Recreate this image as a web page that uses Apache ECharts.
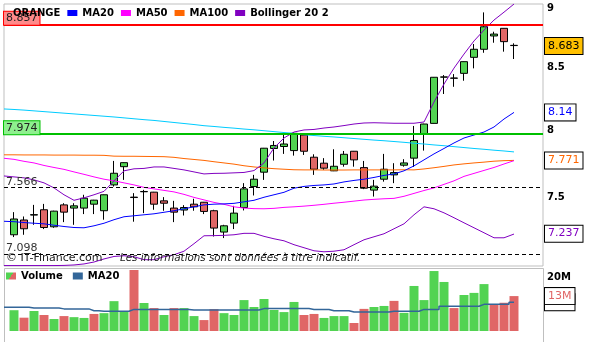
<!DOCTYPE html>
<html>
<head>
<meta charset="utf-8">
<script src="https://cdn.jsdelivr.net/npm/echarts@6.0.0/dist/echarts.min.js"></script>
<style>
html,body{margin:0;padding:0;background:#ffffff;}
#chart{width:592px;height:342px;}
</style>
</head>
<body>
<div id="chart"></div>
<script>
// ---------- DATA ----------
const opens  = [7.232,7.336,7.371,7.409,7.288,7.444,7.421,7.421,7.449,7.402,7.589,7.724,7.500,7.539,7.536,7.473,7.421,7.407,7.449,7.463,7.402,7.251,7.314,7.425,7.577,7.683,7.861,7.876,7.845,7.964,7.795,7.750,7.693,7.742,7.840,7.717,7.551,7.631,7.663,7.735,7.788,7.968,8.054,8.422,8.415,8.453,8.585,8.652,8.764,8.829,8.685];
const closes = [7.343,7.274,7.374,7.283,7.399,7.392,7.437,7.492,7.478,7.517,7.675,7.754,7.497,7.541,7.449,7.456,7.392,7.425,7.430,7.397,7.279,7.295,7.385,7.560,7.631,7.863,7.884,7.895,7.977,7.840,7.705,7.713,7.727,7.817,7.775,7.565,7.580,7.705,7.680,7.752,7.922,8.049,8.421,8.424,8.413,8.549,8.652,8.842,8.780,8.716,8.683];
const lows   = [7.216,7.232,7.302,7.272,7.281,7.321,7.302,7.378,7.378,7.338,7.577,7.626,7.324,7.385,7.409,7.402,7.321,7.368,7.402,7.378,7.220,7.209,7.272,7.404,7.512,7.626,7.770,7.820,7.807,7.812,7.663,7.700,7.691,7.724,7.724,7.558,7.504,7.613,7.602,7.724,7.722,7.845,8.052,8.286,8.344,8.393,8.494,8.623,8.707,8.632,8.571];
const highs  = [7.392,7.361,7.444,7.451,7.402,7.456,7.456,7.517,7.480,7.519,7.767,7.756,7.529,7.553,7.538,7.500,7.473,7.442,7.488,7.465,7.409,7.302,7.437,7.602,7.663,7.865,7.918,7.984,7.985,7.966,7.817,7.788,7.855,7.842,7.842,7.767,7.626,7.820,7.750,7.780,8.034,8.051,8.423,8.439,8.447,8.551,8.696,8.966,8.800,8.831,8.702];
// volume, in millions
const volumes = [7.8,5.0,7.5,6.0,4.5,5.6,5.2,4.9,6.4,6.7,11.2,7.5,22.9,10.5,8.6,6.0,8.6,8.6,5.6,4.1,8.2,6.7,6.0,11.6,9.0,12.0,7.9,7.1,10.9,6.0,6.4,4.9,5.6,5.6,3.0,8.3,9.0,9.4,11.3,6.8,16.9,11.6,22.5,18.4,8.6,13.5,14.3,17.6,9.8,10.6,13.1];
// indicator lines: first value is the day before the first candle (left edge of the panel)
const ma20    = [7.327,7.324,7.318,7.313,7.309,7.299,7.290,7.283,7.281,7.295,7.313,7.338,7.359,7.366,7.373,7.380,7.391,7.402,7.416,7.430,7.444,7.449,7.451,7.455,7.466,7.477,7.499,7.517,7.535,7.565,7.578,7.585,7.589,7.596,7.611,7.622,7.631,7.644,7.659,7.670,7.693,7.730,7.775,7.820,7.861,7.903,7.941,7.964,7.987,8.026,8.088,8.140];
const ma50    = [7.787,7.779,7.764,7.752,7.733,7.718,7.704,7.685,7.667,7.648,7.631,7.619,7.604,7.589,7.571,7.560,7.549,7.538,7.520,7.498,7.480,7.462,7.448,7.430,7.421,7.417,7.416,7.419,7.426,7.430,7.435,7.441,7.448,7.456,7.463,7.471,7.479,7.484,7.488,7.491,7.506,7.527,7.548,7.567,7.593,7.619,7.652,7.674,7.696,7.718,7.744,7.769];
const ma100   = [7.813,7.813,7.812,7.812,7.812,7.811,7.811,7.811,7.810,7.810,7.809,7.803,7.802,7.802,7.801,7.800,7.799,7.794,7.785,7.778,7.771,7.761,7.752,7.743,7.731,7.722,7.715,7.709,7.705,7.701,7.700,7.700,7.699,7.699,7.699,7.700,7.700,7.700,7.700,7.700,7.701,7.700,7.707,7.716,7.726,7.737,7.745,7.752,7.758,7.765,7.769,7.771];
const bollUp  = [7.655,7.648,7.641,7.626,7.604,7.567,7.517,7.477,7.495,7.517,7.542,7.619,7.693,7.708,7.711,7.722,7.722,7.711,7.700,7.685,7.670,7.674,7.675,7.678,7.681,7.695,7.752,7.865,7.941,7.987,8.003,8.007,8.018,8.026,8.037,8.049,8.057,8.059,8.057,8.055,8.055,8.055,8.065,8.222,8.366,8.496,8.612,8.722,8.814,8.900,8.968,9.039];
const bollLow = [7.020,7.020,7.020,7.020,7.020,7.020,7.021,7.024,7.031,7.044,7.065,7.082,7.087,7.080,7.060,7.060,7.080,7.094,7.118,7.170,7.225,7.226,7.228,7.232,7.242,7.242,7.221,7.204,7.190,7.163,7.142,7.121,7.114,7.118,7.128,7.163,7.197,7.218,7.239,7.274,7.309,7.373,7.430,7.416,7.387,7.352,7.316,7.281,7.246,7.211,7.211,7.237];
const ma200   = [8.167,8.163,8.158,8.152,8.146,8.140,8.134,8.128,8.122,8.116,8.110,8.104,8.097,8.090,8.083,8.077,8.069,8.061,8.053,8.045,8.036,8.030,8.023,8.017,8.010,8.004,7.997,7.990,7.983,7.977,7.966,7.960,7.954,7.949,7.943,7.937,7.931,7.925,7.920,7.914,7.908,7.901,7.895,7.888,7.882,7.875,7.868,7.861,7.855,7.848,7.842,7.835];
const volMA20 = [8.9,8.9,8.9,8.6,8.6,8.6,8.3,8.3,8.3,7.6,7.4,7.4,7.4,8.1,8.1,8.1,8.1,8.1,8.1,7.9,7.9,7.9,7.9,7.9,7.9,7.9,8.4,8.4,8.4,8.4,8.4,8.1,8.1,7.6,7.6,7.1,7.1,7.1,7.1,7.4,7.4,7.4,8.1,8.1,9.3,9.3,9.3,9.3,10.0,10.0,10.0,10.8];
// horizontal levels (resistance / support) and axis ticks
const levels = [8.857, 7.974, 7.566, 7.098];
const priceTicks = [9, 8.5, 8, 7.5];
const volumeTicks = [20];

// ---------- CHART ----------
const F = 'DejaVu Sans';
const GREEN = '#52D352', RED = '#E06666';
const last = a => a[a.length - 1];
const candleData = opens.map((o, i) => [i, o, closes[i], lows[i], highs[i]]);
const lineData = a => a.map((v, i) => [i - 1, v]);
const volData = volumes.map((v, i) => ({
  value: [i, v],
  itemStyle: { color: (i === 0 || closes[i] >= closes[i - 1]) ? GREEN : RED }
}));
const clear = { color: 'rgba(0,0,0,0)', width: 1, type: 'solid' };

const leftBox = (bg, border) => ({
  show: true, position: 'insideStartTop', distance: [0, 0],
  color: '#222', fontFamily: F, fontSize: 11,
  backgroundColor: bg, borderColor: border, borderWidth: 1, padding: [1, 2, 1, 2]
});
const leftText = {
  show: true, position: 'insideStartTop', distance: [2, 0],
  color: '#333', fontFamily: F, fontSize: 11
};
const tickLabel = {
  show: true, position: 'end', distance: 4,
  color: '#000', fontFamily: F, fontSize: 10, fontWeight: 'bold'
};
const valueBox = (txtColor, bg) => ({
  show: true, position: 'end', distance: 2,
  color: txtColor, fontFamily: F, fontSize: 11,
  backgroundColor: bg, borderColor: '#000', borderWidth: 1, padding: [3, 3, 2, 3]
});

const mainMarks = [
  { yAxis: levels[0], lineStyle: { color: '#FF0000', width: 2, type: 'solid' },
    label: Object.assign(leftBox('#FF8A8A', '#FF0000'), { formatter: String(levels[0]) }) },
  { yAxis: levels[1], lineStyle: { color: '#00C000', width: 2, type: 'solid' },
    label: Object.assign(leftBox('#8EF08E', '#00C000'), { formatter: String(levels[1]) }) },
  { yAxis: levels[2], lineStyle: { color: '#000', width: 1, type: [4, 3] },
    label: Object.assign({}, leftText, { formatter: String(levels[2]) }) },
  { yAxis: levels[3], lineStyle: { color: '#000', width: 1, type: [4, 3] },
    label: Object.assign({}, leftText, { formatter: String(levels[3]) }) }
].concat(priceTicks.map(t => ({
  yAxis: t, lineStyle: clear, label: Object.assign({}, tickLabel, { formatter: String(t) })
}))).concat([
  { yAxis: last(closes), lineStyle: clear, label: Object.assign(valueBox('#000', '#FFC000'), { formatter: last(closes).toFixed(3) }) },
  { yAxis: last(ma20), lineStyle: clear, label: Object.assign(valueBox('#0000FF', '#fff'), { formatter: String(last(ma20)) }) },
  { yAxis: last(ma100), lineStyle: clear, label: Object.assign(valueBox('#FF6600', '#fff'), { formatter: String(last(ma100)) }) },
  { yAxis: last(bollLow), lineStyle: clear, label: Object.assign(valueBox('#8000C0', '#fff'), { formatter: String(last(bollLow)) }) }
]);

const volMarks = [
  { yAxis: last(volMA20), lineStyle: clear, label: Object.assign(valueBox('#336699', '#fff'), { formatter: Math.round(last(volMA20)) + 'M' }) },
  { yAxis: last(volumes), lineStyle: clear, label: Object.assign(valueBox(RED, '#fff'), { formatter: Math.round(last(volumes)) + 'M' }) }
].concat(volumeTicks.map(t => ({
  yAxis: t, lineStyle: clear, label: Object.assign({}, tickLabel, { formatter: t + 'M' })
})));

const mkLine = (name, data, color) => ({
  type: 'line', name: name, data: lineData(data), xAxisIndex: 0, yAxisIndex: 0,
  showSymbol: false, symbol: 'none', color: color,
  lineStyle: { color: color, width: 1 }, z: 3, silent: true, clip: true
});

const chart = echarts.init(document.getElementById('chart'), null, { renderer: 'canvas' });
chart.setOption({
  animation: false,
  backgroundColor: '#ffffff',
  grid: [
    { left: 4, top: 4, width: 539, height: 262, show: true, borderColor: '#BFBFBF', borderWidth: 1, backgroundColor: 'rgba(0,0,0,0)' },
    { left: 4, top: 268, width: 539, height: 63, show: false }
  ],
  xAxis: [
    { type: 'value', gridIndex: 0, min: -1, max: 52.9, show: false },
    { type: 'value', gridIndex: 1, min: -1, max: 52.9, show: false }
  ],
  yAxis: [
    { type: 'log', gridIndex: 0, min: 7.017, max: 9.039, show: false, splitLine: { show: false } },
    { type: 'value', gridIndex: 1, min: 0, max: 23.64, show: false, splitLine: { show: false } }
  ],
  legend: [
    {
      data: [{ name: 'ORANGE', itemStyle: { opacity: 0 } }, 'MA20', 'MA50', 'MA100', 'Bollinger 20 2'],
      left: -3, top: 8, padding: 0, itemGap: 7, itemWidth: 10, itemHeight: 6, icon: 'rect',
      selectedMode: false, z: 20,
      textStyle: { fontFamily: F, fontSize: 10, fontWeight: 'bold', color: '#000' }
    },
    {
      data: [
        { name: 'Volume', itemStyle: { color: { type: 'linear', x: 0, y: 0, x2: 1, y2: 1,
          colorStops: [{ offset: 0, color: GREEN }, { offset: 0.5, color: GREEN }, { offset: 0.5, color: RED }, { offset: 1, color: RED }] } } },
        { name: 'MA20', itemStyle: { color: '#336699' } }
      ],
      left: 6, top: 271, padding: 0, itemGap: 10, itemWidth: 10, itemHeight: 7, icon: 'rect',
      selectedMode: false, z: 20,
      textStyle: { fontFamily: F, fontSize: 10, fontWeight: 'bold', color: '#000' }
    }
  ],
  graphic: [
    { type: 'text', left: 6, top: 253, z: 30, silent: true,
      style: { text: '© IT-Finance.com', font: '11px "DejaVu Sans"', fill: '#222' } },
    { type: 'text', left: 120, top: 253, z: 30, silent: true,
      style: { text: 'Les informations sont données à titre indicatif.', font: 'italic 10.3px "DejaVu Sans"', fill: '#222' } },
    { type: 'polyline', z: 1, silent: true,
      shape: { points: [[4.5, 342], [4.5, 268.5], [543.5, 268.5], [543.5, 342]] },
      style: { stroke: '#BFBFBF', lineWidth: 1, fill: null } }
  ],
  series: [
    {
      type: 'candlestick', name: 'ORANGE', xAxisIndex: 0, yAxisIndex: 0,
      data: candleData, barWidth: 7, z: 2, silent: true,
      itemStyle: { color: GREEN, color0: RED, borderColor: '#000', borderColor0: '#000', borderWidth: 1 },
      markLine: { silent: true, symbol: ['none', 'none'], animation: false, data: mainMarks }
    },
    mkLine('MA200', ma200, '#00CCFF'),
    mkLine('MA100', ma100, '#FF6600'),
    mkLine('MA50', ma50, '#FF00FF'),
    mkLine('MA20', ma20, '#0000FF'),
    mkLine('Bollinger 20 2', bollUp, '#8000C0'),
    mkLine('Bollinger 20 2', bollLow, '#8000C0'),
    {
      type: 'bar', name: 'Volume', xAxisIndex: 1, yAxisIndex: 1, data: volData,
      barWidth: 9, z: 2, silent: true, color: GREEN,
      markLine: { silent: true, symbol: ['none', 'none'], animation: false, data: volMarks }
    },
    {
      type: 'line', name: 'MA20', xAxisIndex: 1, yAxisIndex: 1, data: lineData(volMA20),
      step: 'middle', showSymbol: false, symbol: 'none', color: '#336699',
      lineStyle: { color: '#336699', width: 1.5 }, z: 3, silent: true
    }
  ]
});
</script>
</body>
</html>
